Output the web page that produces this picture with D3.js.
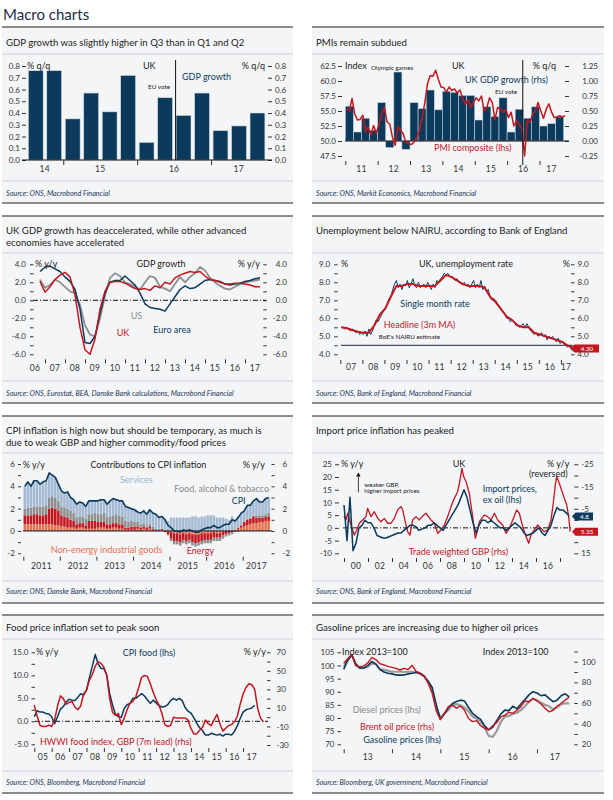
<!DOCTYPE html>
<meta charset="utf-8">
<style>
body{margin:0;background:#fff;}
svg{display:block;font-family:Lato,"Open Sans",sans-serif;}
.tick text{font-family:Lato,"Open Sans",sans-serif;font-size:8px;fill:#333;}
.tick line{stroke:#333;}
.ttl{font-size:9.6px;fill:#1c1c1c;}
.src{font-size:7.2px;font-style:italic;fill:#1e3658;}
.yr{font-size:8.5px;fill:#333;letter-spacing:0.3px;}
.lbl{font-size:9px;}
.sm{font-size:6.3px;fill:#222;}
</style>
<svg id="chart" width="613" height="800"></svg>
<script src="https://cdn.jsdelivr.net/npm/d3@7"></script>
<script>

// ---- chart 1: UK GDP q/q ----
var gdpQuarters = ['2014Q3','2014Q4','2015Q1','2015Q2','2015Q3','2015Q4','2016Q1','2016Q2','2016Q3','2016Q4','2017Q1','2017Q2','2017Q3']
var gdpGrowth = [0.76,0.76,0.35,0.57,0.41,0.72,0.15,0.53,0.38,0.57,0.25,0.29,0.40]
var gdpTicks = [0,0.1,0.2,0.3,0.4,0.5,0.6,0.7,0.8]

// ---- chart 2: PMI (monthly from Jan 2011) and GDP q/q (quarterly from 2011Q1) ----
var pmiComposite = [
  55.3,55.0,57.1,54.5,53.5,53.6,54.3,51.5,52.3,51.0,52.6,51.3,
  52.8,54.6,55.6,53.2,52.8,50.6,49.3,52.4,51.8,51.2,49.7,49.6,
  49.4,49.8,50.6,51.7,53.9,56.4,59.6,60.9,60.8,61.8,60.3,59.0,
  58.9,58.2,59.0,58.4,58.7,58.0,58.5,57.2,56.1,56.9,55.6,56.4,
  57.2,56.7,57.5,55.0,55.6,57.2,56.4,53.6,55.6,55.3,54.8,55.3,
  53.9,54.8,52.5,53.4,52.8,52.0,47.5,53.4,53.1,54.5,55.0,56.4,
  55.0,53.8,55.3,56.2,54.8,53.9,54.0,54.2,54.0,54.2]
var ukGdpQoq = [0.58,0.15,0.38,0.18,0.64,-0.11,1.15,-0.14,0.64,0.54,0.85,0.52,0.83,0.81,0.76,0.76,
  0.35,0.57,0.41,0.72,0.15,0.53,0.38,0.57,0.25,0.29,0.40]
var pmiTicks = [47.5,50,52.5,55,57.5,60,62.5]
var qoqTicks = [-0.25,0,0.25,0.5,0.75,1,1.25]

// ---- chart 3: GDP y/y, quarterly from 2006Q3 ----
var ukGdpYoy = [2.1,0.9,1.5,2.3,2.8,3.1,2.6,0.6,-3.0,-5.5,-6.0,-4.3,-1.0,1.0,2.0,2.1,2.1,1.9,1.6,1.3,1.2,1.3,1.1,
  1.6,1.4,2.0,1.8,2.5,2.8,3.0,3.2,3.1,3.2,2.7,2.3,2.2,2.0,1.8,1.8,1.9,1.9,1.8,1.7,1.5,1.5]
var usGdpYoy = [2.3,1.4,1.7,2.3,2.0,1.5,1.0,0.8,-0.5,-2.8,-3.8,-4.0,-2.0,0.5,2.5,3.0,2.7,2.0,1.8,1.5,1.2,2.0,2.7,
  2.5,1.5,1.3,1.0,1.8,2.6,2.0,2.6,3.0,3.7,3.3,2.5,2.0,1.6,1.3,1.2,1.5,1.8,2.0,2.1,2.2,2.3]
var euroGdpYoy = [3.2,3.7,3.8,3.5,3.2,2.6,2.1,1.2,-1.0,-4.7,-4.8,-4.0,-1.5,0.8,2.0,2.2,2.2,2.7,2.2,1.7,0.8,-0.4,-0.8,
  -0.9,-1.0,-1.2,-0.4,0.4,1.2,1.6,1.3,1.4,1.8,2.2,2.3,2.2,2.1,1.8,1.7,1.8,1.9,2.1,2.2,2.4,2.5]

// ---- chart 4: unemployment, single month (monthly from Jan 2007), headline (quarterly from 2007) ----
var unempSingle = [
  5.5,5.5,5.4,5.5,5.4,5.3,5.4,5.3,5.2,5.3,5.1,5.2,
  5.1,5.3,5.0,5.4,5.1,5.3,5.6,5.9,5.8,6.0,6.2,6.4,
  6.5,6.8,7.1,7.2,7.6,7.9,8.1,7.7,7.9,7.6,7.9,7.8,
  8.1,7.7,7.9,8.2,7.8,7.7,8.0,7.7,7.8,7.9,7.7,8.0,
  7.8,7.6,7.9,7.7,8.1,8.0,8.2,8.3,8.5,8.4,8.5,8.3,
  8.3,8.2,8.1,8.2,8.0,8.0,7.9,8.0,7.8,7.9,7.7,7.9,
  8.1,7.7,7.9,7.7,8.1,7.6,7.8,7.5,7.6,7.2,7.0,7.1,
  7.0,6.8,6.7,6.5,6.4,6.2,6.0,6.0,5.8,5.9,5.8,5.6,
  5.6,5.5,5.6,5.7,5.5,5.7,5.5,5.3,5.2,5.1,5.2,5.0,
  5.1,5.2,5.0,5.1,4.8,5.0,4.9,5.0,4.8,4.7,4.9,4.6,
  4.7,4.6,4.5,4.4,4.5,4.3,4.2,4.3]
var unempHeadline = [5.5,5.45,5.35,5.25,5.2,5.2,5.6,6.2,6.55,7.2,7.8,7.8,7.9,7.9,7.8,7.8,7.8,7.8,8.1,8.4,
  8.3,8.1,7.9,7.8,7.8,7.8,7.7,7.2,6.9,6.5,6.1,5.9,5.6,5.5,5.5,5.2,5.1,5.0,4.9,4.8,4.7,4.5,4.35]
var nairu = 4.5
var unempLatest = 4.30

// ---- chart 5: contributions to CPI inflation, monthly from Jan 2011 ----
var cpiNeig = [
  0.6,0.6,0.6,0.6,0.6,0.6,0.6,0.6,0.6,0.6,0.5,0.5,
  0.4,0.4,0.3,0.3,0.3,0.2,0.3,0.3,0.2,0.2,0.2,0.2,
  0.3,0.3,0.3,0.2,0.2,0.3,0.3,0.2,0.2,0.1,0.1,0.1,
  0.1,0.2,0.1,0.2,0.1,0.2,0.1,0.0,0.0,0.1,0.0,0.0,
  -0.1,-0.2,-0.2,-0.3,-0.2,-0.3,-0.2,-0.3,-0.3,-0.3,-0.2,-0.2,
  -0.2,-0.2,-0.1,-0.2,-0.2,-0.1,0.0,0.0,0.1,0.1,0.2,0.3,
  0.4,0.5,0.6,0.7,0.7,0.8,0.8,0.9,0.9]
var cpiEnergy = [
  0.8,0.8,0.8,0.9,0.9,0.8,0.8,0.9,1.4,1.5,1.5,1.3,
  1.0,0.9,0.9,0.7,0.6,0.4,0.4,0.4,0.3,0.7,0.7,0.7,
  0.5,0.5,0.5,0.4,0.4,0.4,0.4,0.4,0.4,0.2,0.2,0.3,
  0.3,0.2,0.2,0.2,0.2,0.2,0.1,0.1,0.1,0.1,-0.1,-0.3,
  -0.6,-0.7,-0.7,-0.7,-0.6,-0.6,-0.6,-0.7,-0.8,-0.7,-0.7,-0.6,
  -0.6,-0.6,-0.5,-0.4,-0.4,-0.3,-0.3,-0.2,-0.1,0.0,0.1,0.2,
  0.4,0.5,0.5,0.6,0.5,0.4,0.4,0.4,0.4]
var cpiFoodContrib = [
  0.6,0.7,0.7,0.7,0.7,0.8,0.8,0.8,1.0,1.0,1.0,0.9,
  0.8,0.8,0.8,0.8,0.7,0.6,0.6,0.6,0.6,0.6,0.6,0.7,
  0.7,0.7,0.8,0.7,0.7,0.7,0.8,0.8,0.7,0.6,0.5,0.5,
  0.4,0.4,0.3,0.3,0.2,0.2,0.2,0.1,0.1,0.0,0.0,-0.1,
  -0.2,-0.3,-0.3,-0.3,-0.3,-0.3,-0.3,-0.3,-0.3,-0.3,-0.3,-0.3,
  -0.3,-0.3,-0.3,-0.3,-0.3,-0.3,-0.2,-0.2,-0.2,-0.1,-0.1,0.0,
  0.0,0.1,0.1,0.1,0.2,0.2,0.2,0.2,0.3]
var cpiServices = [
  2.0,2.3,1.9,2.3,2.3,2.0,2.2,2.2,2.2,1.9,1.8,1.5,
  1.4,1.3,1.5,1.2,1.2,1.2,1.3,1.2,1.1,1.2,1.2,1.1,
  1.2,1.3,1.2,1.1,1.4,1.5,1.3,1.3,1.4,1.3,1.3,1.1,
  1.1,0.9,1.0,1.1,1.0,1.3,1.2,1.3,1.0,1.1,1.1,0.9,
  1.2,1.2,1.2,1.2,1.2,1.2,1.2,1.3,1.3,1.2,1.3,1.3,
  1.4,1.4,1.4,1.2,1.2,1.2,1.1,1.0,1.2,0.9,1.0,1.1,
  1.0,1.2,1.1,1.3,1.5,1.2,1.2,1.4,1.4]
var cpiHeadline = [
  4.0,4.4,4.0,4.5,4.5,4.2,4.4,4.5,5.2,5.0,4.8,4.2,
  3.6,3.4,3.5,3.0,2.8,2.4,2.6,2.5,2.2,2.7,2.7,2.7,
  2.7,2.8,2.8,2.4,2.7,2.9,2.8,2.7,2.7,2.2,2.1,2.0,
  1.9,1.7,1.6,1.8,1.5,1.9,1.6,1.5,1.2,1.3,1.0,0.5,
  0.3,0.0,0.0,-0.1,0.1,0.0,0.1,0.0,-0.1,-0.1,0.1,0.2,
  0.3,0.3,0.5,0.3,0.3,0.5,0.6,0.6,1.0,0.9,1.2,1.6,
  1.8,2.3,2.3,2.7,2.9,2.6,2.6,2.9,3.0]

// ---- chart 6: import prices ex oil (quarterly from 1999), TWI GBP y/y (rhs, reversed) ----
var importPrices = [9,-5,12,-9,-6,0,1,3,2,2,0,-3,-3.5,-4,-4,-3.5,-3,-2.5,-2,-2,-1,0,1,1,0.5,-1,-0.5,0,
  1,1,2,1,0,-1,1,3,5,7,9,12,15,12,7,2,-2,1,3,3,2,3,2,1,0,0,-1,0,1,2,1,0,-2,-3,-2.5,-2,-1,0,-2,-3,
  -1,1,5,8,7,7,6,4.8]
var twiDates = [1999.0,1999.17,1999.31,1999.58,1999.86,2000.0,2000.28,2000.56,2000.83,2000.97,2001.25,2001.53,
  2001.81,2002.08,2002.36,2002.64,2002.92,2003.19,2003.47,2003.75,2003.89,2004.17,2004.31,2004.5,2004.72,
  2005.0,2005.28,2005.56,2005.83,2006.25,2006.53,2006.81,2007.08,2007.36,2007.64,2007.92,2008.19,2008.47,
  2008.67,2008.83,2008.97,2009.17,2009.44,2009.72,2009.94,2010.14,2010.28,2010.69,2010.97,2011.25,2011.53,
  2011.81,2012.22,2012.5,2012.78,2013.06,2013.39,2013.61,2013.89,2014.17,2014.39,2014.58,2014.86,2015.14,
  2015.42,2015.69,2015.97,2016.25,2016.44,2016.61,2016.72,2016.94,2017.22,2017.36,2017.56,2017.72,2017.85]
var twiChange = [-1.8,0.0,-3.0,2.3,6.8,5.3,1.5,0.0,-1.5,-5.2,-1.5,-3.7,-0.7,0.8,-0.7,1.5,1.5,-0.7,-4.5,-6.0,
  -4.5,2.3,5.3,6.8,0.0,-1.5,0.0,-1.8,-3.0,0.0,1.5,6.0,4.5,2.3,-1.5,-6.0,-9.7,-12.7,-18.0,-23.2,-19.5,-17.2,
  -12.0,-1.5,8.3,4.5,0.8,-2.2,-1.5,0.0,-3.0,0.0,2.3,6.0,3.8,0.0,-4.5,-3.0,3.0,7.5,10.5,6.8,4.5,2.3,3.8,5.3,
  4.5,0.0,-7.5,-15.7,-19.5,-16.5,-12.0,-9.7,-6.7,-1.5,5.3]
var importLatest = '4.8', twiLatest = '5.33'

// ---- chart 7: food prices, every two months from Jan 2005 ----
var cpiFood = [1.0,2.3,2.0,2.0,1.7,1.6,1.0,-0.5,1.0,2.6,3.2,4.2,4.8,4.6,4.5,5.2,6.0,5.7,6.8,9.5,12.0,14.5,
  12.5,11.5,11.5,10.0,6.0,3.5,1.5,1.0,0.9,2.8,3.6,3.9,5.0,5.0,5.5,6.0,5.5,4.7,3.9,4.6,4.0,3.4,3.1,3.2,3.6,
  4.5,5.0,4.6,5.0,4.5,3.0,2.2,1.8,0.8,-0.4,-1.4,-2.0,-3.0,-3.0,-2.6,-2.8,-3.0,-2.8,-3.2,-2.8,-2.8,-3.0,
  -2.2,-1.0,0.6,2.0,2.5,2.7,2.9,3.5]
var hwwiFood = [13,1,-9,-10,-10,-8.5,-10,-3,12,23,20,14,16,17,11,8,12,25,29,40,46,55,60,58,54,45,20,5,2,4,
  -8,-1,8,15,17,22,32,43,45,44,36,27,19,13,4,-8,-10,-9,0,-1,-1,-1,-1,-3,-12,-18,-18,-14,-11,-3,-7,-9,-3,3,
  -7,-15,-12,-9,-8,-5,1,14,25,32,36,35,30,10,-1,-5]

// ---- chart 8: fuel prices, monthly from Jan 2013, index 2013=100 ----
var gasolinePrice = [98.5,102,104,100.5,99,99,100,101.5,100.5,98.5,97.5,97,96.8,96.4,96.3,96.4,96.8,97,97.3,
  96.8,95.8,94,91.5,85,79.5,81.5,84,85.5,86.3,86.8,86.5,84,81.8,80.5,79.5,77,75.5,76.5,79,81.5,83,82.8,
  84.5,83.5,85.3,87,88.8,90,89.5,88.5,88.8,87.5,86.2,86.8,88.5,89.2,88]
var dieselPrice = [99.5,102,104,100.5,99,99,99.5,100.8,100.5,98.5,98.3,98,97.6,97.6,97.6,97.5,97.6,97.6,97.5,
  97,96,93.5,89.5,84,80,81.8,83,85,85.3,84.8,84,82.5,80.5,79.8,78.5,76.5,73.2,72.8,75,78.5,80.5,80.8,81.5,
  82,83,84.5,86.2,87.3,86.8,85.8,85,84.5,83.3,84,85.3,85.6,85.6]
var brentPrice = [98.5,103,107,96,95,96,99,104,102,98,97,95.5,94.5,93.5,92,93.5,92.5,96.5,90.5,89,86,79,70,
  52,44,50,56.5,58,55,57,53,45,42,43,38,35.5,34,38,41,46.5,48,51,50,53,56.5,62,61,64.5,62,59,55,51.5,53,
  57,59.5,63,65.5]

var navy = '#0b3a5c', red = '#c3161f', grey = '#8e8e8e', sky = '#a4b9d2', salmon = '#e3714f',
    panelBg = '#f4f5f7'

var svg = d3.select('#chart')
svg.append('rect').attr('width', 613).attr('height', 800).attr('fill', '#fff')
svg.append('text').attr('x', 3).attr('y', 20).attr('font-size', 15).attr('fill', '#1c2c44').text('Macro charts')

var rows = [
  {top: 27, sep: 54, srcSep: 181, bottom: 203, titleY: 43, srcY: 193},
  {top: 216, sep: 253, srcSep: 381, bottom: 403, titleY: 231, srcY: 393},
  {top: 416, sep: 453, srcSep: 581, bottom: 603, titleY: 431, srcY: 591},
  {top: 615, sep: 639, srcSep: 771, bottom: 793, titleY: 628, srcY: 782}]
var cols = [{x: 2, w: 291}, {x: 312, w: 292}]

function panel(c, r, title, source){
  var p = cols[c], R = rows[r]
  var g = svg.append('g')
  g.append('rect').attr('x', p.x).attr('y', R.top).attr('width', p.w).attr('height', R.bottom - R.top).attr('fill', panelBg)
  ;[R.top, R.bottom].forEach(function(y){
    g.append('line').attr('x1', p.x).attr('x2', p.x + p.w).attr('y1', y).attr('y2', y)
      .attr('stroke', '#8c8c8c').attr('stroke-width', 2)
  })
  ;[R.sep, R.srcSep].forEach(function(y){
    g.append('line').attr('x1', p.x).attr('x2', p.x + p.w).attr('y1', y).attr('y2', y)
      .attr('stroke', '#cdd1d6').attr('stroke-width', 1)
  })
  title.forEach(function(t, i){
    g.append('text').attr('class', 'ttl').attr('x', p.x + 4).attr('y', R.titleY + i * 11.6).attr('dy', '0.35em').text(t)
  })
  g.append('text').attr('class', 'src').attr('x', p.x + 4).attr('y', R.srcY).attr('dy', '0.35em').text(source)
}

function leftAxis(scale, x, ticks, fmt, opt){
  opt = opt || {}
  var g = svg.append('g').attr('transform', 'translate(' + x + ',0)')
    .call(d3.axisLeft(scale).tickValues(ticks).tickFormat(fmt).tickSize(opt.size || 4).tickPadding(opt.pad || 2))
  g.select('.domain').remove()
  if (opt.minor) {
    svg.append('g').attr('transform', 'translate(' + x + ',0)')
      .call(d3.axisLeft(scale).tickValues(opt.minor).tickFormat('').tickSize(opt.size || 4))
      .select('.domain').remove()
  }
}

function rightAxis(scale, x, ticks, fmt, opt){
  opt = opt || {}
  var g = svg.append('g').attr('transform', 'translate(' + x + ',0)')
    .call(d3.axisRight(scale).tickValues(ticks).tickFormat(fmt).tickSize(opt.size || 4).tickPadding(opt.pad || 3))
  g.select('.domain').remove()
  if (opt.endAt) g.selectAll('text').attr('text-anchor', 'end').attr('x', opt.endAt - x)
  if (opt.minor) {
    svg.append('g').attr('transform', 'translate(' + x + ',0)')
      .call(d3.axisRight(scale).tickValues(opt.minor).tickFormat('').tickSize(opt.size || 4))
      .select('.domain').remove()
  }
}

// year ticks at boundaries, labels centred on the visible part of each year
function yearAxis(scale, y, tickYears, labelYears, end, off, opt){
  opt = opt || {}
  var g = svg.append('g').attr('transform', 'translate(0,' + y + ')')
    .call(d3.axisBottom(scale).tickValues(tickYears).tickFormat('').tickSize(opt.size || 4))
  g.select('.domain').remove()
  var d0 = scale.domain()[0]
  svg.append('g').selectAll('text').data(labelYears).join('text')
    .attr('class', 'yr')
    .attr('x', function(d){ return opt.atYear ? scale(d) : scale((Math.max(d, d0) + Math.min(d + 1, end)) / 2) })
    .attr('y', y + off).attr('dy', '0.35em').attr('text-anchor', 'middle')
    .text(function(d){ return opt.full ? d : String(d).slice(2) })
}

function note(x, y, txt, col, cls, anchor){
  return svg.append('text').attr('class', cls || 'lbl').attr('x', x).attr('y', y).attr('dy', '0.35em')
    .attr('fill', col || '#222').attr('text-anchor', anchor || 'start').text(txt)
}

function hline(x1, x2, y, col, dash, w){
  svg.append('line').attr('x1', x1).attr('x2', x2).attr('y1', y).attr('y2', y)
    .attr('stroke', col || '#111').attr('stroke-width', w || 1).attr('stroke-dasharray', dash || null)
}

function tag(x, y, w, txt, col){
  svg.append('path').attr('d', 'M' + x + ',' + y + 'l3.5,-4h' + (w - 3.5) + 'v8h' + (3.5 - w) + 'z').attr('fill', col)
  svg.append('text').attr('x', x + 2 + w / 2).attr('y', y).attr('dy', '0.35em').attr('text-anchor', 'middle')
    .attr('font-size', 6.3).attr('fill', '#fff').text(txt)
}

function path(data, x, y, col, w){
  svg.append('path').datum(data).attr('fill', 'none').attr('stroke', col).attr('stroke-width', w || 1.3)
    .attr('stroke-linejoin', 'round')
    .attr('d', d3.line().x(x).y(y))
}

var f1 = function(d){ return d.toFixed(1) }
var dashDot = '5,2,1,2'

// ================= chart 1 =================
panel(0, 0, ['GDP growth was slightly higher in Q3 than in Q1 and Q2'], 'Source: ONS, Macrobond Financial')
var qTime = function(s){ return +s.slice(0, 4) + (+s.slice(5) - 1) / 4 }
var x1 = d3.scaleLinear().domain([2014.5, 2017.75]).range([26.3, 266.5])
var y1 = d3.scaleLinear().domain([0, 0.8]).range([160, 66])
leftAxis(y1, 26, gdpTicks, f1)
rightAxis(y1, 268, gdpTicks, f1)
svg.append('g').selectAll('rect').data(gdpGrowth).join('rect')
  .attr('x', function(d, i){ return x1(qTime(gdpQuarters[i])) + 2 })
  .attr('width', x1(2014.75) - x1(2014.5) - 3.6)
  .attr('y', function(d){ return y1(d) })
  .attr('height', function(d){ return y1(0) - y1(d) })
  .attr('fill', navy).attr('stroke', '#d6dce4').attr('stroke-width', 0.6)
hline(22, 272, y1(0))
yearAxis(x1, y1(0), [2015, 2016, 2017], [2014, 2015, 2016, 2017], 2017.75, 9, {size: 5})
svg.append('line').attr('x1', x1(2016.52)).attr('x2', x1(2016.52)).attr('y1', 60).attr('y2', y1(0)).attr('stroke', '#111')
note(27, 66, '% q/q')
note(265, 66, '% q/q', '#222', 'lbl', 'end')
note(143, 66, 'UK')
note(182, 77, 'GDP growth', navy)
note(148, 87, 'EU vote', '#222', 'sm')

// ================= chart 2 =================
panel(1, 0, ['PMIs remain subdued'], 'Source: ONS, Markit Economics, Macrobond Financial')
var x2 = d3.scaleLinear().domain([2011, 2018]).range([345.3, 571.8])
var y2l = d3.scaleLinear().domain([47.5, 62.5]).range([156, 66])
var y2r = d3.scaleLinear().domain([-0.25, 1.25]).range([156, 66])
leftAxis(y2l, 342, pmiTicks, f1)
rightAxis(y2r, 565, qoqTicks, function(d){ return d.toFixed(2) }, {endAt: 598})
svg.append('g').selectAll('rect').data(ukGdpQoq).join('rect')
  .attr('x', function(d, i){ return x2(2011 + i / 4) })
  .attr('width', x2(2011.25) - x2(2011))
  .attr('y', function(d){ return Math.min(y2r(d), y2r(0)) })
  .attr('height', function(d){ return Math.abs(y2r(0) - y2r(d)) })
  .attr('fill', navy).attr('stroke', '#c9d1da').attr('stroke-width', 0.6)
hline(345, 569, y2r(0))
path(pmiComposite, function(d, i){ return x2(2011 + (i + 0.5) / 12) }, function(d){ return y2l(d) }, red, 1.5)
svg.append('line').attr('x1', x2(2016.485)).attr('x2', x2(2016.485)).attr('y1', 60).attr('y2', 165).attr('stroke', '#111')
yearAxis(x2, 161, d3.range(2011, 2018), d3.range(2011, 2018), 2017.75, 8)
note(345, 66, 'Index')
note(371, 68, 'Olympic games', '#222', 'sm')
note(452, 66, 'UK')
note(556, 66, '% q/q', '#222', 'lbl', 'end')
note(465, 80, 'UK GDP growth (rhs)', navy)
note(495, 92, 'EU vote', '#222', 'sm')
note(434, 148, 'PMI composite (lhs)', red)

// ================= chart 3 =================
panel(0, 1, ['UK GDP growth has deaccelerated, while other advanced', 'economies have accelerated'],
  'Source: ONS, Eurostat, BEA, Danske Bank calculations, Macrobond Financial')
var x3 = d3.scaleLinear().domain([2006, 2018]).range([25, 265])
var y3 = d3.scaleLinear().domain([-6, 4]).range([354.3, 264.3])
leftAxis(y3, 33.5, [-6, -4, -2, 0, 2, 4], f1, {minor: [-5, -3, -1, 1, 3], size: 3.5, pad: 4})
rightAxis(y3, 263.3, [-6, -4, -2, 0, 2, 4], f1, {minor: [-5, -3, -1, 1, 3], size: 3.5, endAt: 287})
hline(33, 266, y3(0), '#111', dashDot)
var q3 = function(d, i){ return x3(2006.75 + i / 4) }
path(usGdpYoy, q3, function(d){ return y3(d) }, grey, 1.8)
path(euroGdpYoy, q3, function(d){ return y3(d) }, navy, 1.5)
path(ukGdpYoy, q3, function(d){ return y3(d) }, red, 1.5)
yearAxis(x3, 359.3, d3.range(2007, 2018), d3.range(2006, 2018), 2018, 8.4)
note(35, 264.3, '% y/y')
note(161, 264.3, 'GDP growth', '#222', 'lbl', 'middle')
note(260, 264.3, '% y/y', '#222', 'lbl', 'end')
note(130.7, 316, 'US', grey)
note(116.7, 332.7, 'UK', red)
note(153.3, 330, 'Euro area', navy)

// ================= chart 4 =================
panel(1, 1, ['Unemployment below NAIRU, according to Bank of England'], 'Source: ONS, Bank of England, Macrobond Financial')
var x4 = d3.scaleLinear().domain([2007, 2018]).range([340.3, 583])
var y4 = d3.scaleLinear().domain([4, 9]).range([354.3, 264.3])
var u4 = [4, 5, 6, 7, 8, 9], u4m = [4.5, 5.5, 6.5, 7.5, 8.5]
leftAxis(y4, 337.7, u4, f1, {minor: u4m, size: 3.5, pad: 4})
rightAxis(y4, 571, u4, f1, {minor: u4m, size: 3.5, pad: 3})
hline(341, 572, y4(nairu), '#1b2a3a', null, 1)
path(unempSingle, function(d, i){ return x4(2007 + (i + 0.5) / 12) }, function(d){ return y4(d) }, navy, 1)
path(unempHeadline, function(d, i){ return x4(2007.04 + i / 4) }, function(d){ return y4(d) }, red, 2)
tag(571, y4(unempLatest) - 0.5, 28, unempLatest.toFixed(2), red)
yearAxis(x4, 360, d3.range(2007, 2018), d3.range(2007, 2018), 2017.45, 6.7)
note(341, 264.3, '%')
note(570, 264.3, '%', '#222', 'lbl', 'end')
note(466, 264.3, 'UK, unemployment rate', '#222', 'lbl', 'middle')
note(400.3, 304.3, 'Single month rate', navy)
note(383.7, 325, 'Headline (3m MA)', red)
note(378.7, 336.7, "BoE's NAIRU estimate", '#222', 'sm')

// ================= chart 5 =================
panel(0, 2, ['CPI inflation is high now but should be temporary, as much is', 'due to weak GBP and higher commodity/food prices'],
  'Source: ONS, Danske Bank, Macrobond Financial')
var x5 = d3.scaleLinear().domain([2011, 2018]).range([23.3, 279.3])
var y5 = d3.scaleLinear().domain([-2, 6]).range([553.3, 464])
leftAxis(y5, 21, [-2, 0, 2, 4, 6], function(d){ return d }, {minor: [-1, 1, 3, 5], size: 3, pad: 3})
rightAxis(y5, 271.5, [-2, 0, 2, 4, 6], function(d){ return d }, {minor: [-1, 1, 3, 5], size: 3, pad: 8})
var cpiRows = cpiHeadline.map(function(d, i){
  return {i: i, neig: cpiNeig[i], energy: cpiEnergy[i], food: cpiFoodContrib[i], services: cpiServices[i]}
})
var cpiKeys = ['neig', 'energy', 'food', 'services']
var cpiCols = {neig: salmon, energy: red, food: grey, services: sky}
var stacked = d3.stack().keys(cpiKeys).offset(d3.stackOffsetDiverging)(cpiRows)
var bw = x5(2011 + 1 / 12) - x5(2011)
svg.append('g').selectAll('g').data(stacked).join('g')
  .attr('fill', function(s){ return cpiCols[s.key] })
  .selectAll('rect').data(function(s){ return s }).join('rect')
  .attr('x', function(d){ return x5(2011 + d.data.i / 12) + 0.25 })
  .attr('width', bw - 0.5)
  .attr('y', function(d){ return y5(Math.max(d[0], d[1])) })
  .attr('height', function(d){ return Math.abs(y5(d[0]) - y5(d[1])) })
hline(23, 272, y5(0), '#111')
path(cpiHeadline, function(d, i){ return x5(2011 + (i + 0.5) / 12) }, function(d){ return y5(d) }, navy, 1.6)
yearAxis(x5, 556.7, d3.range(2011, 2018), d3.range(2011, 2018), 2017.75, 9.3, {full: true})
note(22.7, 465, '% y/y')
note(148.4, 465, 'Contributions to CPI inflation', '#222', 'lbl', 'middle')
note(265, 465, '% y/y', '#222', 'lbl', 'end')
note(120, 480, 'Services', '#9bb2cd')
note(174.3, 489.3, 'Food, alcohol & tobacco', '#8a8a8a')
note(231.7, 500.7, 'CPI', navy)
note(50.7, 550, 'Non-energy industrial goods', salmon)
note(186.7, 551.3, 'Energy', red)

// ================= chart 6 =================
panel(1, 2, ['Import price inflation has peaked'], 'Source: ONS, Bank of England, Macrobond Financial')
var x6 = d3.scaleLinear().domain([1999, 2018]).range([344, 572])
var y6l = d3.scaleLinear().domain([-10, 25]).range([553.3, 464.3])
var y6r = d3.scaleLinear().domain([-25, 15]).range([464.3, 553.3])
leftAxis(y6l, 339, [-10, -5, 0, 5, 10, 15, 20, 25], function(d){ return d }, {size: 4, pad: 3})
// the "5" on the right axis sits behind the GBP value tag in the original, so only its tick is drawn
rightAxis(y6r, 574.3, [-25, -15, -5, 15], function(d){ return d }, {minor: [-20, -10, 0, 5, 10], size: 4, pad: 3})
hline(343, 572, y6l(0), '#111', dashDot)
path(twiChange, function(d, i){ return x6(twiDates[i]) }, function(d){ return y6r(d) }, red, 1.3)
path(importPrices, function(d, i){ return x6(1999 + i / 4) }, function(d){ return y6l(d) }, navy, 1.5)
tag(572, y6l(+importLatest) + 0.8, 21, importLatest, navy)
tag(572, y6r(+twiLatest), 26, twiLatest, red)
yearAxis(x6, 558, d3.range(1999, 2018, 2), d3.range(2000, 2017, 2), 2018, 8, {atYear: true})
svg.append('line').attr('x1', x6(2000.2)).attr('x2', x6(2000.2)).attr('y1', y6l(14)).attr('y2', y6l(21))
  .attr('stroke', '#111').attr('stroke-width', 0.8)
svg.append('path').attr('fill', '#111')
  .attr('d', 'M' + x6(2000.2) + ',' + (y6l(21) - 2) + 'l-2.2,4h4.4z')
note(341, 464.3, '% y/y')
note(452.7, 464.3, 'UK')
note(569.3, 464.3, '% y/y', '#222', 'lbl', 'end')
note(567.7, 474.3, '(reversed)', '#222', 'lbl', 'end')
note(364.3, 485, 'weaker GBP,', '#222', 'sm')
note(364.3, 490.7, 'higher import prices', '#222', 'sm')
note(482.7, 488.6, 'Import prices,', navy)
note(482.7, 500, 'ex oil (lhs)', navy)
note(408.7, 551.7, 'Trade weighted GBP (rhs)', red)

// ================= chart 7 =================
panel(0, 3, ['Food price inflation set to peak soon'], 'Source: ONS, Bloomberg, Macrobond Financial')
var x7 = d3.scaleLinear().domain([2005, 2018]).range([34.3, 260.5])
var y7l = d3.scaleLinear().domain([-5, 15]).range([744.3, 652.3])
var y7r = d3.scaleLinear().domain([-30, 70]).range([745, 652.3])
leftAxis(y7l, 35, [-5, 0, 5, 10, 15], f1, {minor: [-2.5, 2.5, 7.5, 12.5], size: 3.5, pad: 3})
rightAxis(y7r, 267, [-30, -10, 10, 30, 50, 70], function(d){ return d }, {minor: [-20, 0, 20, 40, 60], size: 3.5, pad: 6})
hline(35, 268, y7l(0), '#111', dashDot)
path(cpiFood, function(d, i){ return x7(2005 + i / 6) }, function(d){ return y7l(d) }, navy, 1.5)
path(hwwiFood, function(d, i){ return x7(2005 + i / 6) }, function(d){ return y7r(d) }, red, 1.5)
yearAxis(x7, 748, d3.range(2005, 2018), d3.range(2005, 2018), 2018, 9.3)
note(36, 652.3, '% y/y')
note(122.7, 653, 'CPI food (lhs)', navy)
note(266, 652.3, '% y/y', '#222', 'lbl', 'end')
note(40, 742.3, 'HWWI food index, GBP (7m lead) (rhs)', red)

// ================= chart 8 =================
panel(1, 3, ['Gasoline prices are increasing due to higher oil prices'], 'Source: Bloomberg, UK government, Macrobond Financial')
var x8 = d3.scaleLinear().domain([2013, 2018]).range([343.7, 585.3])
var y8l = d3.scaleLinear().domain([70, 105]).range([744.3, 652.3])
var y8r = d3.scaleLinear().domain([20, 110]).range([744.3, 651.4])
leftAxis(y8l, 341, [70, 75, 80, 85, 90, 95, 100, 105], function(d){ return d }, {size: 3.5, pad: 3})
rightAxis(y8r, 574.3, [20, 40, 60, 80, 100], function(d){ return d }, {minor: [30, 50, 70, 90, 110], size: 3.5, pad: 4})
var m8 = function(d, i){ return x8(2013 + i / 12) }
path(dieselPrice, m8, function(d){ return y8l(d) }, '#9a9a9a', 2.2)
path(gasolinePrice, m8, function(d){ return y8l(d) }, navy, 1.6)
path(brentPrice, m8, function(d){ return y8r(d) }, red, 1.4)
yearAxis(x8, 749.3, d3.range(2013, 2018), d3.range(2013, 2018), 2017.75, 8)
note(342, 652.3, 'Index 2013=100')
note(482.7, 652.3, 'Index 2013=100')
note(352.7, 710, 'Diesel prices (lhs)', '#8a8a8a')
note(360, 726.7, 'Brent oil price (rhs)', red)
note(363.3, 740, 'Gasoline prices (lhs)', navy)

</script>
